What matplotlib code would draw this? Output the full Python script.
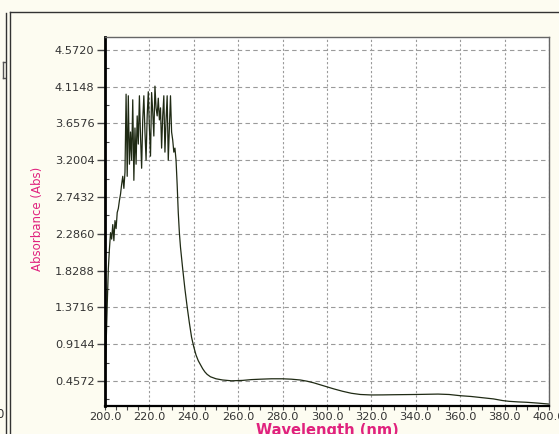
import matplotlib
matplotlib.use("Agg")
import matplotlib.pyplot as plt
from matplotlib.lines import Line2D

# UV-Vis absorbance spectrum
wavelength_nm = [
    200.0, 200.5, 201.0, 201.5, 202.0, 202.5, 203.0, 203.5, 204.0, 204.5,
    205.0, 205.5, 206.0, 206.5, 207.0, 207.5, 208.0, 208.5,
    209.0, 209.5, 210.0, 210.5, 211.0, 211.5, 212.0, 212.5, 213.0, 213.5,
    214.0, 214.5, 215.0, 215.5, 216.0, 216.5, 217.0, 217.5, 218.0, 218.5,
    219.0, 219.5, 220.0, 220.5, 221.0, 221.5, 222.0, 222.5, 223.0, 223.5,
    224.0, 224.5, 225.0, 225.5, 226.0, 226.5, 227.0, 227.5, 228.0, 228.5,
    229.0, 229.5, 230.0, 230.5, 231.0, 231.5, 232.0, 232.5, 233.0, 233.5,
    234.0, 235.0, 236.0, 237.0, 238.0, 239.0, 240.0, 241.0, 242.0, 243.0,
    244.0, 245.0, 246.0, 247.5, 250.0, 253.0, 257.0, 262.0, 266.0, 270.0,
    275.0, 280.0, 284.0, 288.0, 291.0, 294.0, 297.0, 300.0, 303.0, 307.0,
    311.0, 315.0, 320.0, 325.0, 330.0, 340.0, 350.0, 355.0, 360.0, 365.0,
    370.0, 375.0, 379.0, 382.0, 386.0, 390.0, 395.0, 400.0,
]
absorbance = [
    0.45, 0.90, 1.40, 1.85, 2.10, 2.30, 2.22, 2.40, 2.20, 2.45,
    2.35, 2.55, 2.60, 2.70, 2.78, 2.90, 3.00, 2.85,
    3.05, 4.02, 3.00, 4.00, 3.15, 3.55, 3.20, 3.95, 2.95, 3.60,
    3.15, 3.75, 3.40, 4.00, 3.50, 3.10, 3.70, 4.00, 3.55, 3.20,
    3.75, 4.05, 3.60, 3.25, 4.04, 3.80, 3.50, 4.12, 3.85, 3.75,
    3.97, 3.70, 3.85, 3.35, 3.75, 4.00, 3.30, 3.70, 4.00, 3.20,
    3.60, 4.00, 3.55, 3.45, 3.30, 3.35, 3.20, 2.90, 2.55, 2.30,
    2.12, 1.85, 1.60, 1.38, 1.18, 1.00, 0.88, 0.78, 0.71, 0.66,
    0.61, 0.57, 0.54, 0.51, 0.485, 0.47, 0.46, 0.465, 0.475, 0.48,
    0.485, 0.485, 0.48, 0.47, 0.455, 0.435, 0.41, 0.385, 0.36, 0.33,
    0.305, 0.29, 0.284, 0.285, 0.287, 0.29, 0.295, 0.29, 0.275, 0.265,
    0.25, 0.235, 0.215, 0.205, 0.198, 0.193, 0.183, 0.171,
]

x_ticks = [200.0, 220.0, 240.0, 260.0, 280.0, 300.0, 320.0, 340.0, 360.0, 380.0, 400.0]
y_ticks = [0.4572, 0.9144, 1.3716, 1.8288, 2.2860, 2.7432, 3.2004, 3.6576, 4.1148, 4.5720]

PINK = "#E0227E"
BG = "#FDFCF1"

W, H = 559, 434
fig = plt.figure(figsize=(W / 100, H / 100), dpi=100, facecolor=BG)
ax = fig.add_axes([105 / W, 1 - 406 / H, (549 - 105) / W, (406 - 37) / H])
ax.set_facecolor("white")

ax.plot(wavelength_nm, absorbance, color="#1f2a14", linewidth=0.9)

ax.set_xlim(200, 400)
ax.set_ylim(0.147, 4.73)

ax.set_xticks(x_ticks)
ax.set_xticklabels([f"{v:.1f}" for v in x_ticks])
ax.set_yticks(y_ticks)
ax.set_yticklabels([f"{v:.4f}" for v in y_ticks])
ax.set_xticks([200 + 5 * i for i in range(41)], minor=True)
ax.set_yticks([y_ticks[0] / 2 * k for k in range(1, 21)], minor=True)

ax.tick_params(axis="both", which="major", labelsize=8.2, labelcolor="#333333")
ax.tick_params(axis="y", which="major", direction="out", length=6, width=1, color="#444444", pad=1.5)
ax.tick_params(axis="y", which="minor", direction="in", length=3, width=0.8, color="#444444")
ax.tick_params(axis="x", which="major", direction="out", length=3, width=0.8, color="#444444", pad=1.5)
ax.tick_params(axis="x", which="minor", direction="out", length=3, width=0.8, color="#444444")

# grid: dashed horizontals, dotted verticals
ax.yaxis.grid(True, which="major", color="#9a9a9a", linestyle=(0, (4, 3)), linewidth=0.8)
ax.xaxis.grid(True, which="major", color="#9a9a9a", linestyle=(0, (2, 2)), linewidth=0.8)
ax.set_axisbelow(True)

ax.spines["left"].set_linewidth(2.0)
ax.spines["left"].set_color("black")
ax.spines["bottom"].set_linewidth(1.6)
ax.spines["bottom"].set_color("black")
for s in ("top", "right"):
    ax.spines[s].set_linewidth(1.0)
    ax.spines[s].set_color("#666666")

fig.text(38 / W, 1 - 219 / H, "Absorbance (Abs)", rotation=90, color=PINK,
         fontsize=8.5, ha="center", va="center")
fig.text(327 / W, 1 - 423 / H, "Wavelength (nm)", color=PINK, fontsize=10.5,
         fontweight="bold", ha="center", va="top")

# window frame lines
def fline(x0, y0, x1, y1, color="#333333", lw=1.0):
    fig.add_artist(Line2D([x0 / W, x1 / W], [1 - y0 / H, 1 - y1 / H],
                          color=color, linewidth=lw, transform=fig.transFigure))

fline(9.5, 12, W, 12, lw=1.0)
fline(9.5, 12, 9.5, H, lw=1.0)
fline(5.5, 13, 5.5, H, lw=1.0)
fline(3, 62, 3, 78, color="#555555", lw=1.0)
fline(3, 62, 5, 62, color="#555555", lw=1.0)
fline(3, 78, 5, 78, color="#555555", lw=1.0)
fig.text(3.5 / W, 1 - 415 / H, "0", fontsize=8.5, color="#333333", ha="right", va="center")

fig.savefig("out.png", dpi=100, facecolor=BG)
